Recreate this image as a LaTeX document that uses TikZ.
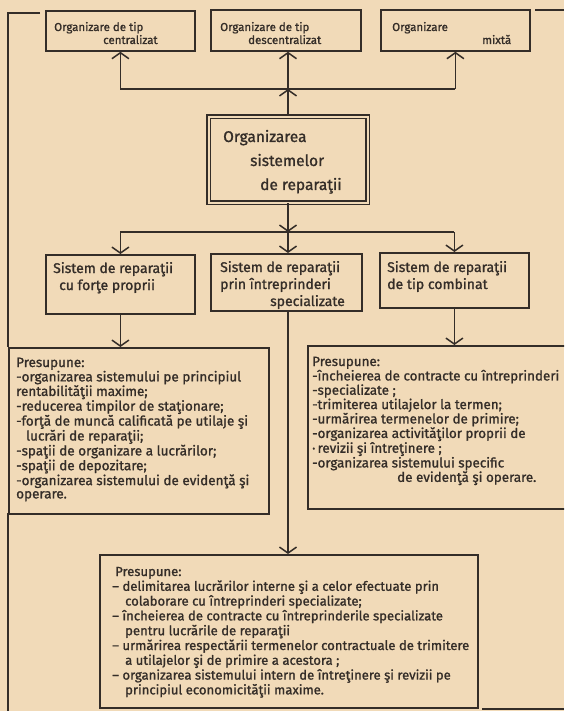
\documentclass[tikz,border=0pt]{standalone}
\usepackage{fontspec}
\setmainfont{Fira Sans}
\newfontfamily\inkfont{Fira Sans}[FakeBold=1.2]
\usetikzlibrary{arrows.meta}
\definecolor{paper}{RGB}{241,218,184}
\definecolor{ink}{RGB}{52,45,40}
% multi-line text block whose reference point is the first baseline
\newcommand\blocktext[2]{\parbox[t]{#1}{\raggedright\setlength{\parindent}{0pt}#2}}
\begin{document}
\begin{tikzpicture}[x=1pt,y=-1pt,
  box/.style={draw=ink, line width=1.8pt, inner sep=0pt, anchor=north west},
  mainbox/.style={draw=ink, line width=1.4pt, double=paper, double distance=2pt, inner sep=0pt, anchor=north west},
  wire/.style={draw=ink, line width=1.6pt},
  tip/.style={-{Straight Barb[length=6pt,width=17pt,line width=1.5pt]}},
  frame/.style={draw=ink, line width=1.6pt},
  txt/.style={anchor=base west, inner sep=0pt, text=ink},
  small/.style={font=\inkfont\fontsize{11.5}{13}\selectfont},
  mid/.style={font=\inkfont\fontsize{14}{17}\selectfont},
  big/.style={font=\inkfont\fontsize{15.5}{24}\selectfont},
  listA/.style={font=\inkfont\fontsize{13.5}{13.3}\selectfont},
  listB/.style={font=\inkfont\fontsize{13.4}{12.8}\selectfont},
  listC/.style={font=\inkfont\fontsize{13.1}{14.8}\selectfont}]
\clip (0,0) rectangle (564,711);
\fill[paper] (0,0) rectangle (564,711);

% page frame fragments
\draw[frame] (40,13) -- (8,13) -- (8,347);
\draw[frame] (8,513) -- (8,711);
\draw[frame] (535,10) -- (564,10);
\draw[frame] (482,709) -- (564,709);

% top row: kinds of organisation
\node[box, minimum width=149pt, minimum height=40pt] (t1) at (45,10) {};
\node[box, minimum width=150pt, minimum height=41pt] (t2) at (210,9) {};
\node[box, minimum width=149pt, minimum height=41pt] (t3) at (380,9) {};
\node[txt, small] (t1x) at (54,31) {\blocktext{150pt}{Organizare de tip\\\hspace*{49pt}centralizat}};
\node[txt, small] (t2x) at (220,31) {\blocktext{150pt}{Organizare de tip\\\hspace*{28pt}descentralizat}};
\node[txt, small] (t3x) at (392,31) {\blocktext{150pt}{Organizare\\\hspace*{90pt}mixtă}};

% central box
\node[mainbox, minimum width=159pt, minimum height=86pt] (c) at (208,116) {};
\node[txt, big] (cx) at (223,142) {\blocktext{150pt}{Organizarea\\\hspace*{27pt}sistemelor\\\hspace*{37pt}de reparaţii}};

% middle row: repair systems
\node[box, minimum width=149pt, minimum height=59pt] (m1) at (45,254) {};
\node[box, minimum width=151pt, minimum height=57pt] (m2) at (210,253) {};
\node[box, minimum width=149pt, minimum height=55pt] (m3) at (379,252) {};
\node[txt, mid] (m1x) at (53,273) {\blocktext{150pt}{Sistem de reparaţii\\\hspace*{6pt}cu forţe proprii}};
\node[txt, mid] (m2x) at (220,272) {\blocktext{150pt}{Sistem de reparaţii\\prin întreprinderi\\\hspace*{50pt}specializate}};
\node[txt, mid] (m3x) at (387,272) {\blocktext{150pt}{Sistem de reparaţii\\de tip combinat}};

% lists of requirements
\node[box, minimum width=260pt, minimum height=166pt] (L) at (8,347) {};
\node[box, minimum width=300pt, minimum height=163pt] (R) at (307,345) {};
\node[box, minimum width=378pt, minimum height=153pt] (B) at (99,554) {};

\node[txt, listA] (Lx) at (16,367) {\blocktext{260pt}{Presupune:\\
-organizarea sistemului pe principiul\\
rentabilităţii maxime;\\
-reducerea timpilor de staţionare;\\
-forţă de muncă calificată pe utilaje şi\\
\hspace*{10pt}lucrări de reparaţii;\\
-spaţii de organizare a lucrărilor;\\
-spaţii de depozitare;\\
-organizarea sistemului de evidenţă şi\\
operare.}};

\node[txt, listB] (Rx) at (312,366) {\blocktext{260pt}{Presupune:\\
-încheierea de contracte cu întreprinderi\\
-specializate ;\\
-trimiterea utilajelor la termen;\\
-urmărirea termenelor de primire;\\
-organizarea activităţilor proprii de\\
·\,revizii şi întreţinere ;\\
-organizarea sistemului specific\\
\hspace*{85pt}de evidenţă şi operare.}};

\node[txt, listC] (Bx) at (115,576) {\blocktext{420pt}{Presupune:\\
\hspace*{-3pt}– delimitarea lucrărilor interne şi a celor efectuate prin\\
\hspace*{10pt}colaborare cu întreprinderi specializate;\\
\hspace*{-3pt}– încheierea de contracte cu întreprinderile specializate\\
\hspace*{10pt}pentru lucrările de reparaţii\\
\hspace*{-3pt}– urmărirea respectării termenelor contractuale de trimitere\\
\hspace*{10pt}a utilajelor şi de primire a acestora ;\\
\hspace*{-3pt}– organizarea sistemului intern de întreţinere şi revizii pe\\
\hspace*{10pt}principiul economicităţii maxime.}};

% connectors above the central box
\coordinate (jt) at (288,89);
\draw[wire, tip] (jt |- c.north) -- (jt);
\draw[wire] (t1.south |- jt) -- (t3.south |- jt);
\draw[wire, tip] (t1.south |- jt) -- (t1.south);
\draw[wire, tip] (jt) -- (jt |- t2.south);
\draw[wire, tip] (t3.south |- jt) -- (t3.south);

% connectors below the central box
\coordinate (jm) at (288,232);
\draw[wire, tip] (jm |- c.south) -- (jm);
\draw[wire] (m1.north |- jm) -- (m3.north |- jm);
\draw[wire, tip] (m1.north |- jm) -- (m1.north);
\draw[wire, tip] (jm) -- (jm |- m2.north);
\draw[wire, tip] (m3.north |- jm) -- (m3.north);

% from each system to its list
\draw[wire, tip] (m1.south) -- (m1.south |- L.north);
\draw[wire, tip] (jm |- m2.south) -- (jm |- B.north);
\draw[wire, tip] (m3.south) -- (m3.south |- R.north);
\end{tikzpicture}
\end{document}
